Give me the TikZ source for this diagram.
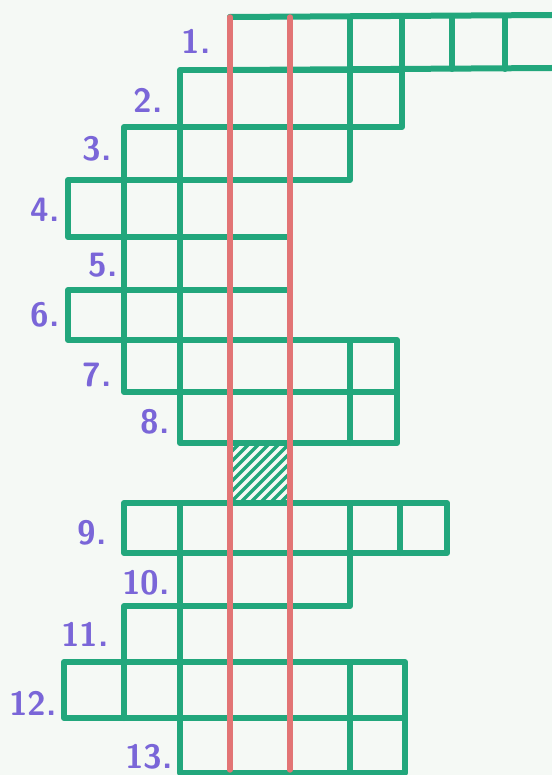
\documentclass[tikz,border=0pt]{standalone}
\usepackage{tikz}
\definecolor{paper}{HTML}{F5F9F5}
\definecolor{gridgreen}{HTML}{22A77C}
\definecolor{mainred}{HTML}{E27575}
\definecolor{numviolet}{HTML}{7A66D8}

\tikzset{
    gridline/.style={draw=gridgreen, line width=0.3cm, line cap=round, line join=round},
    mainline/.style={draw=mainred, line width=0.27cm, line cap=round},
    hatchline/.style={draw=gridgreen, line width=0.17cm},
    numlabel/.style={text=numviolet, font=\sffamily\bfseries\fontsize{48}{52}\selectfont, inner sep=0pt}
}

\begin{document}
\begin{tikzpicture}[x=0.05cm, y=-0.05cm]

    % paper and fixed page size (pixel units, y downward)
    \fill[paper] (0,0) rectangle (552,775);
    \useasboundingbox (0,0) rectangle (552,775);

    % ==========================================
    % ROWS OF THE CROSSWORD
    % ==========================================

    % row 1 (runs off the right edge)
    \draw[gridline] (230,17) -- (552,15);
    \draw[gridline] (230,70) -- (552,68);
    \draw[gridline] (230,17) -- (230,70);
    \foreach \x in {290,350,402,452,505}
        \draw[gridline] (\x,17) -- (\x,69);

    % row 2
    \draw[gridline] (180,70) rectangle (402,127);
    \foreach \x in {230,290,350}
        \draw[gridline] (\x,70) -- (\x,127);

    % row 3
    \draw[gridline] (124,127) rectangle (350,180);
    \foreach \x in {180,230,290}
        \draw[gridline] (\x,127) -- (\x,180);

    % row 4
    \draw[gridline] (68,180) rectangle (290,237);
    \foreach \x in {124,180,230}
        \draw[gridline] (\x,180) -- (\x,237);

    % row 5
    \draw[gridline] (124,237) rectangle (290,290);
    \foreach \x in {180,230}
        \draw[gridline] (\x,237) -- (\x,290);

    % row 6
    \draw[gridline] (68,290) rectangle (290,340);
    \foreach \x in {124,180,230}
        \draw[gridline] (\x,290) -- (\x,340);

    % row 7
    \draw[gridline] (124,340) rectangle (397,392);
    \foreach \x in {180,230,290,350}
        \draw[gridline] (\x,340) -- (\x,392);

    % row 8
    \draw[gridline] (180,392) rectangle (397,443);
    \foreach \x in {230,290,350}
        \draw[gridline] (\x,392) -- (\x,443);

    % hatched gap between 8 and 9
    \begin{scope}
        \clip (230,443) rectangle (290,503);
        \foreach \d in {-60,-50,...,60}
            \draw[hatchline] (230+\d,503) -- (290+\d,443);
    \end{scope}

    % row 9
    \draw[gridline] (124,503) rectangle (447,553);
    \foreach \x in {180,230,290,350,400}
        \draw[gridline] (\x,503) -- (\x,553);

    % row 10
    \draw[gridline] (180,553) rectangle (350,606);
    \foreach \x in {230,290}
        \draw[gridline] (\x,553) -- (\x,606);

    % row 11
    \draw[gridline] (124,606) rectangle (290,662);
    \foreach \x in {180,230}
        \draw[gridline] (\x,606) -- (\x,662);

    % row 12
    \draw[gridline] (64,662) rectangle (405,718);
    \foreach \x in {124,180,230,290,350}
        \draw[gridline] (\x,662) -- (\x,718);

    % row 13 (bottom line on the page edge)
    \draw[gridline] (180,718) rectangle (405,773);
    \foreach \x in {230,290,350}
        \draw[gridline] (\x,718) -- (\x,773);

    % ==========================================
    % SOLUTION COLUMNS
    % ==========================================

    \draw[mainline] (230,17) -- (230,770);
    \draw[mainline] (290,17) -- (290,770);

    % ==========================================
    % ROW NUMBERS
    % ==========================================

    \node[numlabel] (n1)  at (196,41)  {1.};
    \node[numlabel] (n2)  at (148,100) {2.};
    \node[numlabel] (n3)  at (97,149)  {3.};
    \node[numlabel] (n4)  at (45,210)  {4.};
    \node[numlabel] (n5)  at (103,265) {5.};
    \node[numlabel] (n6)  at (45,315)  {6.};
    \node[numlabel] (n7)  at (97,375)  {7.};
    \node[numlabel] (n8)  at (155,422) {8.};
    \node[numlabel] (n9)  at (92,533)  {9.};
    \node[numlabel] (n10) at (146,583) {10.};
    \node[numlabel] (n11) at (85,634)  {11.};
    \node[numlabel] (n12) at (33,703)  {12.};
    \node[numlabel] (n13) at (149,757) {13.};

\end{tikzpicture}
\end{document}
